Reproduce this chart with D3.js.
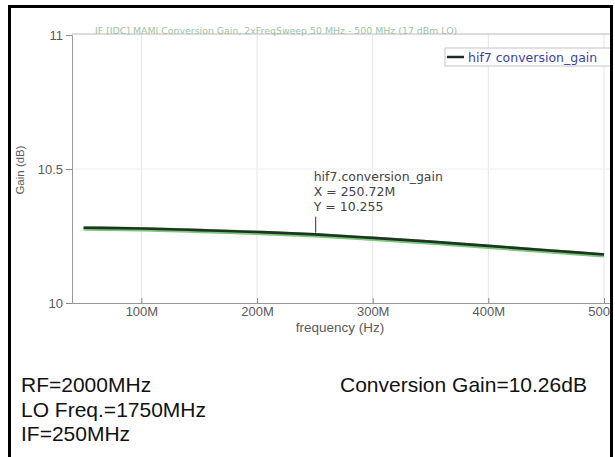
<!DOCTYPE html>
<html lang="en">
<head>
    <meta charset="utf-8">
    <script src="https://d3js.org/d3.v7.min.js"></script>
</head>
<style>
    body { margin: 0; background: #fff; }
    .tick text { font-family: "Liberation Sans", Arial, sans-serif; font-size: 13px; fill: #5a5a5a; }
    .tick line { stroke: #888; }
    .domain { stroke: #999; }
</style>
<body>
    <script>
        const w = 615
        const h = 457

        // gain curve (frequency in MHz, gain in dB)
        const freqMHz = [50, 100, 150, 200, 250, 300, 350, 400, 450, 500]
        const gainDb = [10.281, 10.278, 10.272, 10.265, 10.256, 10.243, 10.229, 10.213, 10.197, 10.181]

        const xTicks = [100, 200, 300, 400, 500]
        const xTickLabels = ["100M", "200M", "300M", "400M", "500M"]
        const yTicks = [10, 10.5, 11]
        const yTickLabels = ["10", "10.5", "11"]

        const markerFreq = 250.72
        const markerGain = 10.255
        const markerLines = ["hif7.conversion_gain", "X = 250.72M", "Y = 10.255"]

        const notesLeft = ["RF=2000MHz", "LO Freq.=1750MHz", "IF=250MHz"]
        const noteRight = "Conversion Gain=10.26dB"

        const svg = d3.select("body")
            .append("svg")
            .attr("width", w)
            .attr("height", h)

        svg.append("defs").append("clipPath").attr("id", "frame")
            .append("rect").attr("x", 11).attr("y", 8).attr("width", 599).attr("height", 460)

        const g = svg.append("g").attr("clip-path", "url(#frame)")

        // note: the plot runs past the right edge of the box, like the screenshot
        const x = d3.scaleLinear().domain([40, 500]).range([72, 604])
        const y = d3.scaleLinear().domain([10, 11]).range([303, 35])

        // light grid
        g.selectAll(".vgrid")
            .data(xTicks)
            .enter()
            .append("line")
            .attr("x1", d => x(d)).attr("x2", d => x(d))
            .attr("y1", y(11)).attr("y2", y(10))
            .attr("stroke", "#e6e6e6")
        g.append("line")
            .attr("x1", x(40)).attr("x2", 615)
            .attr("y1", y(10.5)).attr("y2", y(10.5))
            .attr("stroke", "#eeeeee")

        // top frame line with the faded title sitting on it
        g.append("line")
            .attr("x1", x(40)).attr("x2", 615)
            .attr("y1", y(11) - 1).attr("y2", y(11) - 1)
            .attr("stroke", "#b8b8b8")
        g.append("text")
            .attr("x", 95).attr("y", y(11) - 1)
            .attr("font-family", "DejaVu Sans")
            .attr("font-size", 9.4)
            .attr("fill", "#9cc4a2")
            .text("IF [IDC] MAMI Conversion Gain, 2xFreqSweep 50 MHz - 500 MHz (17 dBm LO)")

        // axes
        g.append("g")
            .attr("transform", `translate(${x(40)},0)`)
            .call(d3.axisLeft(y).tickValues(yTicks)
                .tickFormat((d, i) => yTickLabels[i]).tickSize(6).tickPadding(3))

        g.append("g")
            .attr("transform", `translate(0,${y(10)})`)
            .call(d3.axisBottom(x).tickValues(xTicks)
                .tickFormat((d, i) => xTickLabels[i]).tickSize(-5).tickPadding(4))
            .call(a => a.select(".domain").attr("d", `M${x(40)},0.5H615`))

        g.append("text")
            .attr("x", 340).attr("y", 332)
            .attr("text-anchor", "middle")
            .attr("font-family", "Liberation Sans, Arial")
            .attr("font-size", 13.5)
            .attr("fill", "#5a5a5a")
            .text("frequency (Hz)")

        g.append("text")
            .attr("transform", "translate(24,170) rotate(-90)")
            .attr("text-anchor", "middle")
            .attr("font-family", "Liberation Sans, Arial")
            .attr("font-size", 11.5)
            .attr("fill", "#5a5a5a")
            .text("Gain (dB)")

        // the curve: green halo under a dark trace
        const line = d3.line()
            .x((d, i) => x(freqMHz[i]))
            .y(d => y(d))
            .curve(d3.curveMonotoneX)

        g.append("path")
            .datum(gainDb)
            .attr("d", line)
            .attr("fill", "none")
            .attr("stroke", "#7cc87c")
            .attr("stroke-width", 4.5)
            .attr("transform", "translate(0,0.8)")
        g.append("path")
            .datum(gainDb)
            .attr("d", line)
            .attr("fill", "none")
            .attr("stroke", "#1f3523")
            .attr("stroke-width", 2.6)

        // marker
        g.append("line")
            .attr("x1", x(markerFreq)).attr("x2", x(markerFreq))
            .attr("y1", y(markerGain) - 2).attr("y2", y(markerGain) - 18)
            .attr("stroke", "#333")
        g.selectAll(".mk")
            .data(markerLines)
            .enter()
            .append("text")
            .attr("x", x(markerFreq) - 2)
            .attr("y", (d, i) => 181 + i * 15)
            .attr("font-family", "DejaVu Sans")
            .attr("font-size", 12.5)
            .attr("fill", "#444")
            .text(d => d)

        // legend
        g.append("rect")
            .attr("x", 445).attr("y", 48).attr("width", 175).attr("height", 18)
            .attr("fill", "#fff").attr("stroke", "#c4c4cc")
        g.append("line")
            .attr("x1", 447).attr("x2", 464).attr("y1", 57).attr("y2", 57)
            .attr("stroke", "#1f2a22").attr("stroke-width", 2.5)
        g.append("text")
            .attr("x", 468).attr("y", 61.5)
            .attr("font-family", "DejaVu Sans")
            .attr("font-size", 12.5)
            .attr("fill", "#3b3fa0")
            .text("hif7 conversion_gain")

        // notes under the plot
        svg.selectAll(".note")
            .data(notesLeft)
            .enter()
            .append("text")
            .attr("x", 21)
            .attr("y", (d, i) => 392 + i * 24.5)
            .attr("font-family", "Liberation Sans, Arial")
            .attr("font-size", 21)
            .attr("fill", "#111")
            .text(d => d)
        svg.append("text")
            .attr("x", 340).attr("y", 392)
            .attr("font-family", "Liberation Sans, Arial")
            .attr("font-size", 21)
            .attr("fill", "#111")
            .text(noteRight)

        // black box around everything
        svg.append("rect")
            .attr("x", 9.5).attr("y", 6.5)
            .attr("width", 602).attr("height", 470)
            .attr("fill", "none")
            .attr("stroke", "#000")
            .attr("stroke-width", 3)
    </script>
</body>
</html>
